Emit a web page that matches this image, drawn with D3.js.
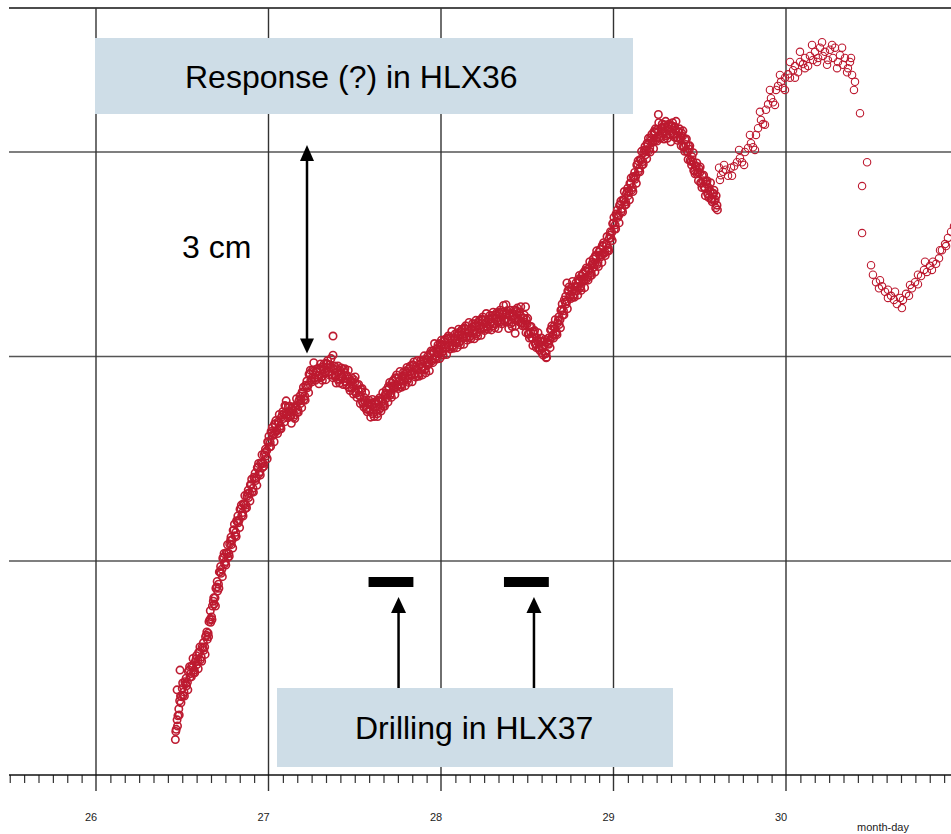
<!DOCTYPE html>
<html>
<head>
<meta charset="utf-8">
<script src="https://cdn.jsdelivr.net/npm/d3@7"></script>
<style>
  body { margin: 0; background: #fff; }
  svg { display: block; }
  text { font-family: "Liberation Sans", Arial, sans-serif; }
</style>
</head>
<body>
<div id="chart"></div>
<script>
// HLX36 level readings (cm), three interleaved logger passes every 0.01 day
var denseStep = 0.01;

var denseStartA = 26.46;
var hlx36DenseA = [
  -2.62,-2.33,-2.17,-1.98,
  -1.87,-1.92,-1.80,-1.78,-1.60,-1.65,-1.56,-1.60,-1.44,-1.46,
  -1.34,-1.41,-1.28,-1.26,-1.09,-1.06,-0.86,-0.82,-0.59,-0.54,
  -0.38,-0.34,-0.16,-0.12,0.06,-0.01,0.11,0.11,0.30,0.31,
  0.46,0.42,0.58,0.60,0.77,0.71,0.83,0.82,0.99,1.00,
  1.12,1.07,1.21,1.22,1.38,1.31,1.43,1.43,1.59,1.62,
  1.75,1.74,1.88,1.86,2.01,1.92,2.02,1.98,2.14,2.16,
  2.27,2.16,2.19,2.13,2.21,2.14,2.25,2.22,2.37,2.37,
  2.47,2.42,2.56,2.58,2.75,2.68,2.78,2.69,2.77,2.72,
  2.81,2.71,2.81,2.77,2.89,2.78,2.84,2.73,2.81,2.73,
  2.78,2.67,2.75,2.70,2.77,2.63,2.67,2.54,2.64,2.57,
  2.62,2.46,2.51,2.42,2.48,2.31,2.34,2.23,2.31,2.23,
  2.29,2.18,2.26,2.16,2.34,2.25,2.34,2.31,2.46,2.45,
  2.54,2.46,2.57,2.55,2.68,2.58,2.65,2.59,2.72,2.69,
  2.76,2.68,2.78,2.74,2.87,2.75,2.81,2.75,2.89,2.85,
  2.93,2.82,2.92,2.90,3.03,2.96,3.06,3.00,3.12,3.09,
  3.16,3.08,3.17,3.14,3.25,3.16,3.24,3.16,3.28,3.25,
  3.32,3.23,3.32,3.29,3.40,3.29,3.37,3.30,3.43,3.38,
  3.45,3.36,3.45,3.42,3.53,3.43,3.50,3.44,3.55,3.51,
  3.57,3.48,3.56,3.52,3.63,3.53,3.62,3.55,3.62,3.53,
  3.60,3.50,3.60,3.56,3.66,3.56,3.60,3.49,3.56,3.47,
  3.48,3.33,3.36,3.27,3.33,3.18,3.22,3.13,3.22,3.14,
  3.17,3.05,3.19,3.24,3.40,3.32,3.41,3.36,3.53,3.54,
  3.69,3.67,3.80,3.81,3.97,3.90,3.97,3.91,4.03,4.02,
  4.11,4.03,4.14,4.12,4.25,4.17,4.26,4.23,4.38,4.36,
  4.47,4.38,4.49,4.49,4.62,4.53,4.63,4.59,4.78,4.82,
  4.96,4.93,5.07,5.07,5.23,5.17,5.29,5.27,5.42,5.42,
  5.54,5.48,5.62,5.65,5.82,5.76,5.88,5.86,6.03,6.02,
  6.12,6.06,6.18,6.16,6.29,6.21,6.30,6.24,6.36,6.31,
  6.37,6.26,6.33,6.26,6.38,6.27,6.32,6.21,6.29,6.21,
  6.23,6.07,6.11,6.00,6.04,5.86,5.86,5.72,5.79,5.70,
  5.70,5.54,5.58,5.47,5.53,5.38,5.42,5.31,5.39,5.30,
  5.22
];

var denseStartB = 26.465;
var hlx36DenseB = [
  -2.47,-2.27,-2.05,-1.99,
  -1.97,-1.77,-1.83,-1.62,-1.70,-1.54,-1.64,-1.48,-1.52,-1.34,
  -1.45,-1.26,-1.31,-1.11,-1.15,-0.89,-0.90,-0.66,-0.63,-0.40,
  -0.44,-0.16,-0.18,0.04,-0.04,0.12,0.05,0.25,0.24,0.45,
  0.37,0.59,0.56,0.76,0.67,0.84,0.77,0.95,0.93,1.12,
  1.02,1.23,1.18,1.37,1.28,1.44,1.37,1.56,1.54,1.75,
  1.67,1.90,1.84,2.01,1.90,2.04,1.94,2.11,2.09,2.28,
  2.14,2.27,2.13,2.24,2.11,2.27,2.18,2.34,2.31,2.48,
  2.37,2.58,2.54,2.74,2.65,2.80,2.68,2.78,2.68,2.83,
  2.69,2.85,2.76,2.90,2.77,2.88,2.73,2.82,2.71,2.82,
  2.65,2.80,2.69,2.81,2.63,2.72,2.55,2.64,2.54,2.66,
  2.47,2.58,2.43,2.52,2.33,2.40,2.23,2.32,2.21,2.32,
  2.16,2.31,2.21,2.36,2.23,2.37,2.27,2.43,2.39,2.56,
  2.43,2.61,2.53,2.69,2.56,2.69,2.56,2.70,2.64,2.79,
  2.65,2.82,2.73,2.88,2.74,2.85,2.72,2.87,2.81,2.95,
  2.80,2.96,2.88,3.04,2.93,3.08,2.97,3.11,3.04,3.19,
  3.05,3.22,3.12,3.27,3.14,3.27,3.14,3.27,3.20,3.35,
  3.20,3.37,3.27,3.42,3.28,3.40,3.28,3.41,3.34,3.48,
  3.33,3.50,3.40,3.55,3.41,3.54,3.41,3.54,3.47,3.60,
  3.45,3.61,3.51,3.65,3.51,3.65,3.53,3.63,3.51,3.63,
  3.48,3.64,3.55,3.68,3.54,3.65,3.49,3.57,3.45,3.54,
  3.33,3.44,3.28,3.37,3.19,3.27,3.12,3.22,3.12,3.22,
  3.04,3.21,3.18,3.39,3.29,3.44,3.33,3.49,3.47,3.68,
  3.61,3.83,3.77,3.96,3.87,4.01,3.88,4.02,3.96,4.13,
  4.00,4.18,4.10,4.26,4.14,4.29,4.19,4.35,4.31,4.48,
  4.35,4.53,4.46,4.63,4.51,4.65,4.55,4.73,4.74,4.95,
  4.87,5.09,5.04,5.22,5.13,5.30,5.22,5.39,5.36,5.54,
  5.44,5.64,5.60,5.81,5.72,5.89,5.81,5.99,5.96,6.13,
  6.02,6.21,6.14,6.30,6.18,6.33,6.21,6.35,6.27,6.40,
  6.24,6.39,6.26,6.39,6.26,6.37,6.21,6.30,6.19,6.28,
  6.08,6.18,6.02,6.09,5.88,5.93,5.73,5.80,5.68,5.76,
  5.55,5.65,5.49,5.57,5.39,5.47,5.31,5.40,5.28,5.36
];

var denseStartC = 26.4625;
var hlx36DenseC = [
  -2.50,-2.42,-2.26,-2.08,
  -1.79,-1.98,-1.72,-1.89,-1.55,-1.70,-1.43,-1.64,-1.39,-1.58,
  -1.26,-1.47,-1.20,-1.37,-1.04,-1.11,-0.73,-0.86,-0.54,-0.66,
  -0.30,-0.40,-0.08,-0.23,0.11,-0.06,0.24,0.07,0.35,0.19,
  0.54,0.36,0.66,0.49,0.82,0.66,0.96,0.78,1.04,0.88,
  1.20,1.01,1.29,1.11,1.43,1.26,1.56,1.39,1.64,1.50,
  1.83,1.68,1.96,1.75,2.06,1.87,2.15,1.94,2.19,2.04,
  2.35,2.10,2.27,2.02,2.26,2.09,2.38,2.18,2.42,2.25,
  2.55,2.36,2.64,2.47,2.80,2.63,2.91,2.65,2.82,2.60,
  2.89,2.65,2.89,2.66,2.94,2.73,2.97,2.69,2.86,2.61,
  2.86,2.61,2.83,2.59,2.82,2.58,2.80,2.50,2.69,2.45,
  2.70,2.40,2.59,2.31,2.53,2.26,2.47,2.19,2.36,2.11,
  2.37,2.12,2.34,2.12,2.39,2.20,2.47,2.27,2.51,2.33,
  2.62,2.40,2.65,2.44,2.73,2.53,2.78,2.55,2.77,2.57,
  2.84,2.62,2.86,2.63,2.92,2.70,2.94,2.71,2.94,2.73,
  3.01,2.76,3.00,2.79,3.08,2.91,3.19,2.96,3.17,2.97,
  3.24,3.02,3.25,3.03,3.30,3.11,3.37,3.12,3.33,3.13,
  3.40,3.17,3.40,3.18,3.45,3.24,3.50,3.26,3.48,3.26,
  3.53,3.30,3.53,3.31,3.58,3.38,3.63,3.40,3.60,3.39,
  3.65,3.42,3.64,3.41,3.68,3.48,3.75,3.51,3.67,3.41,
  3.68,3.44,3.68,3.45,3.71,3.51,3.73,3.45,3.61,3.35,
  3.56,3.27,3.44,3.16,3.38,3.13,3.35,3.09,3.27,3.02,
  3.25,2.99,3.27,3.13,3.45,3.27,3.54,3.32,3.58,3.42,
  3.77,3.61,3.88,3.70,4.02,3.85,4.10,3.87,4.08,3.90,
  4.19,3.97,4.22,4.01,4.30,4.12,4.39,4.19,4.43,4.24,
  4.55,4.32,4.57,4.38,4.67,4.48,4.76,4.55,4.83,4.70,
  5.04,4.87,5.15,4.96,5.28,5.12,5.42,5.23,5.47,5.30,
  5.62,5.42,5.70,5.54,5.87,5.71,6.01,5.82,6.08,5.90,
  6.20,6.00,6.26,6.05,6.34,6.16,6.43,6.20,6.41,6.19,
  6.45,6.20,6.41,6.15,6.43,6.22,6.45,6.17,6.34,6.09,
  6.31,6.01,6.19,5.89,6.09,5.81,5.99,5.68,5.84,5.58,
  5.78,5.48,5.66,5.36,5.58,5.33,5.55,5.27,5.44,5.18,
  5.15
];

// single readings off the main band [day, cm]
var hlx36Extra = [
  [26.470,-1.89],[26.487,-1.60],[27.374,3.30],[27.374,3.02],[28.377,3.76],
  [28.430,3.34],[28.490,3.73],[28.585,3.05],[28.610,2.98],[28.730,4.08],[29.260,6.55]
];

// later, sparser readings [day, cm]
var hlx36Late = [
  [29.612,5.77],[29.617,5.59],[29.623,5.66],[29.635,5.71],[29.641,5.81],[29.652,5.74],
  [29.664,5.65],[29.681,5.77],[29.687,5.65],[29.699,5.79],[29.716,5.85],[29.728,6.03],
  [29.733,5.91],[29.745,5.85],[29.757,5.81],[29.762,6.00],[29.780,6.06],[29.791,6.25],
  [29.797,6.13],[29.809,6.07],[29.820,6.03],[29.826,6.25],[29.838,6.35],[29.849,6.59],
  [29.855,6.47],[29.867,6.41],[29.878,6.40],[29.884,6.62],[29.896,6.70],[29.907,6.91],
  [29.913,6.79],[29.925,6.73],[29.936,6.69],[29.942,6.91],[29.954,6.97],[29.965,7.13],
  [29.971,7.03],[29.983,6.94],[29.994,7.09],[29.994,6.91],[30.012,7.14],[30.023,7.09],
  [30.023,7.32],[30.041,7.20],[30.052,7.26],[30.052,7.09],[30.070,7.17],[30.081,7.32],
  [30.081,7.47],[30.099,7.29],[30.110,7.38],[30.110,7.23],[30.128,7.26],[30.139,7.41],
  [30.151,7.57],[30.157,7.35],[30.168,7.47],[30.180,7.32],[30.186,7.38],[30.197,7.53],
  [30.209,7.61],[30.214,7.41],[30.226,7.47],[30.238,7.28],[30.243,7.35],[30.255,7.50],
  [30.267,7.57],[30.272,7.38],[30.284,7.53],[30.296,7.23],[30.301,7.32],[30.313,7.42],
  [30.325,7.53],[30.330,7.28],[30.342,7.38],[30.354,7.17],[30.359,7.23],[30.371,7.32],
  [30.377,7.38],[30.383,7.13],[30.394,6.91],[30.400,7.03],
  [30.429,6.57],[30.470,5.85],[30.441,5.50],[30.441,4.81],[30.493,4.34],
  [30.504,4.20],[30.522,4.09],[30.539,4.00],[30.545,4.12],[30.557,4.03],[30.574,3.95],
  [30.591,3.98],[30.591,3.86],[30.609,3.89],[30.626,3.83],[30.632,3.95],[30.643,3.77],
  [30.661,3.86],[30.672,3.71],[30.678,3.83],[30.696,3.92],[30.713,3.89],[30.719,4.05],
  [30.730,4.00],[30.748,4.09],[30.765,4.06],[30.765,4.20],[30.783,4.18],[30.800,4.27],
  [30.806,4.39],[30.817,4.24],[30.835,4.33],[30.846,4.27],[30.852,4.39],[30.870,4.36],
  [30.887,4.44],[30.893,4.56],[30.904,4.56],[30.922,4.65],[30.928,4.62],[30.939,4.74],
  [30.957,4.83],[30.974,4.91]
];

// drilling periods in HLX37 [start day, end day]
var drilling = [[27.58, 27.84], [28.365, 28.625]];

var dayTicks = [26, 27, 28, 29, 30];
var dayLabels = ["26", "27", "28", "29", "30"];
var gridCm = [0, 3, 6];

var width = 951,
    height = 834;
var plotLeft = 9, plotRight = 951, plotTop = 8, axisY = 775;
var pointColor = "#bd1a30";

var svg = d3.select("#chart")
    .append("svg")
    .attr("width", width)
    .attr("height", height);

var x = d3.scaleLinear()
    .domain([26, 31])
    .range([96, 958.5]);

var y = d3.scaleLinear()
    .domain([0, 6])
    .range([561, 152]);

// horizontal grid
svg.selectAll(".hgrid")
    .data(gridCm)
    .enter().append("line")
    .attr("x1", plotLeft).attr("x2", plotRight)
    .attr("y1", function(d) { return y(d); })
    .attr("y2", function(d) { return y(d); })
    .attr("stroke", "#555")
    .attr("stroke-width", 1.3);

// top frame line
svg.append("line")
    .attr("x1", plotLeft).attr("x2", plotRight)
    .attr("y1", plotTop).attr("y2", plotTop)
    .attr("stroke", "#111")
    .attr("stroke-width", 1.6);

// vertical day lines, running down through the axis as major ticks
svg.selectAll(".vgrid")
    .data(dayTicks)
    .enter().append("line")
    .attr("x1", function(d) { return x(d); })
    .attr("x2", function(d) { return x(d); })
    .attr("y1", plotTop)
    .attr("y2", axisY + 16)
    .attr("stroke", "#333")
    .attr("stroke-width", 1.4);

// time axis: 2-hour minor ticks
var minorTicks = d3.range(0, 66).map(function(i) { return 25.5 + i / 12; })
    .filter(function(d) { return x(d) <= plotRight && Math.abs(d - Math.round(d)) > 1e-6; });

var axis = svg.append("g")
    .attr("transform", "translate(0," + axisY + ")")
    .call(d3.axisBottom(x).tickValues(minorTicks).tickSize(8).tickFormat(""));
axis.select(".domain").remove();
axis.selectAll(".tick line").attr("stroke", "#333").attr("stroke-width", 1.2);

svg.append("line")
    .attr("x1", plotLeft).attr("x2", plotRight)
    .attr("y1", axisY).attr("y2", axisY)
    .attr("stroke", "#111")
    .attr("stroke-width", 1.5);

svg.selectAll(".day-label")
    .data(dayTicks)
    .enter().append("text")
    .attr("class", "day-label")
    .attr("x", function(d) { return x(d) - 5; })
    .attr("y", 821)
    .attr("text-anchor", "middle")
    .attr("font-size", 11)
    .attr("fill", "#222")
    .text(function(d, i) { return dayLabels[i]; });

svg.append("text")
    .attr("x", 857)
    .attr("y", 831)
    .attr("font-size", 11)
    .attr("fill", "#222")
    .text("month-day");

// annotation boxes
svg.append("rect")
    .attr("x", 95).attr("y", 38)
    .attr("width", 538).attr("height", 76)
    .attr("fill", "#cedde7");

svg.append("rect")
    .attr("x", 277).attr("y", 688)
    .attr("width", 396).attr("height", 79)
    .attr("fill", "#cedde7");

// readings
function pass(start, values) {
  return values.map(function(v, i) { return [start + i * denseStep, v]; });
}
var densePoints = pass(denseStartA, hlx36DenseA)
    .concat(pass(denseStartB, hlx36DenseB))
    .concat(pass(denseStartC, hlx36DenseC))
    .concat(hlx36Extra);

svg.append("g")
    .selectAll("circle")
    .data(densePoints)
    .enter().append("circle")
    .attr("cx", function(d) { return x(d[0]); })
    .attr("cy", function(d) { return y(d[1]); })
    .attr("r", 3.7)
    .attr("fill", "none")
    .attr("stroke", pointColor)
    .attr("stroke-width", 1.6);

svg.append("g")
    .selectAll("circle")
    .data(hlx36Late)
    .enter().append("circle")
    .attr("cx", function(d) { return x(d[0]); })
    .attr("cy", function(d) { return y(d[1]); })
    .attr("r", 3.7)
    .attr("fill", "none")
    .attr("stroke", pointColor)
    .attr("stroke-width", 1.1);

// labels
svg.append("text")
    .attr("x", 185).attr("y", 88)
    .attr("font-size", 32)
    .text("Response (?) in HLX36");

svg.append("text")
    .attr("x", 182).attr("y", 258)
    .attr("font-size", 32)
    .text("3 cm");

svg.append("text")
    .attr("x", 355).attr("y", 739)
    .attr("font-size", 32)
    .text("Drilling in HLX37");

// 3 cm double arrow
var ax = 307;
svg.append("line")
    .attr("x1", ax).attr("x2", ax)
    .attr("y1", y(6) + 4).attr("y2", y(3) - 8)
    .attr("stroke", "#000").attr("stroke-width", 2.5);
svg.append("path")
    .attr("d", "M" + ax + "," + (y(6) - 7) + "L" + (ax - 7) + "," + (y(6) + 9) + "L" + (ax + 7) + "," + (y(6) + 9) + "Z")
    .attr("fill", "#000");
svg.append("path")
    .attr("d", "M" + ax + "," + (y(3) - 3) + "L" + (ax - 7) + "," + (y(3) - 18) + "L" + (ax + 7) + "," + (y(3) - 18) + "Z")
    .attr("fill", "#000");

// drilling bars and arrows
svg.selectAll(".drill")
    .data(drilling)
    .enter().append("rect")
    .attr("x", function(d) { return x(d[0]); })
    .attr("y", 577)
    .attr("width", function(d) { return x(d[1]) - x(d[0]); })
    .attr("height", 10)
    .attr("fill", "#000");

drilling.forEach(function(d) {
  var px = x(d[0]) + 30;
  svg.append("line")
      .attr("x1", px).attr("x2", px)
      .attr("y1", 610).attr("y2", 688)
      .attr("stroke", "#000").attr("stroke-width", 2.5);
  svg.append("path")
      .attr("d", "M" + px + ",597L" + (px - 7.5) + ",613L" + (px + 7.5) + ",613Z")
      .attr("fill", "#000");
});
</script>
</body>
</html>
